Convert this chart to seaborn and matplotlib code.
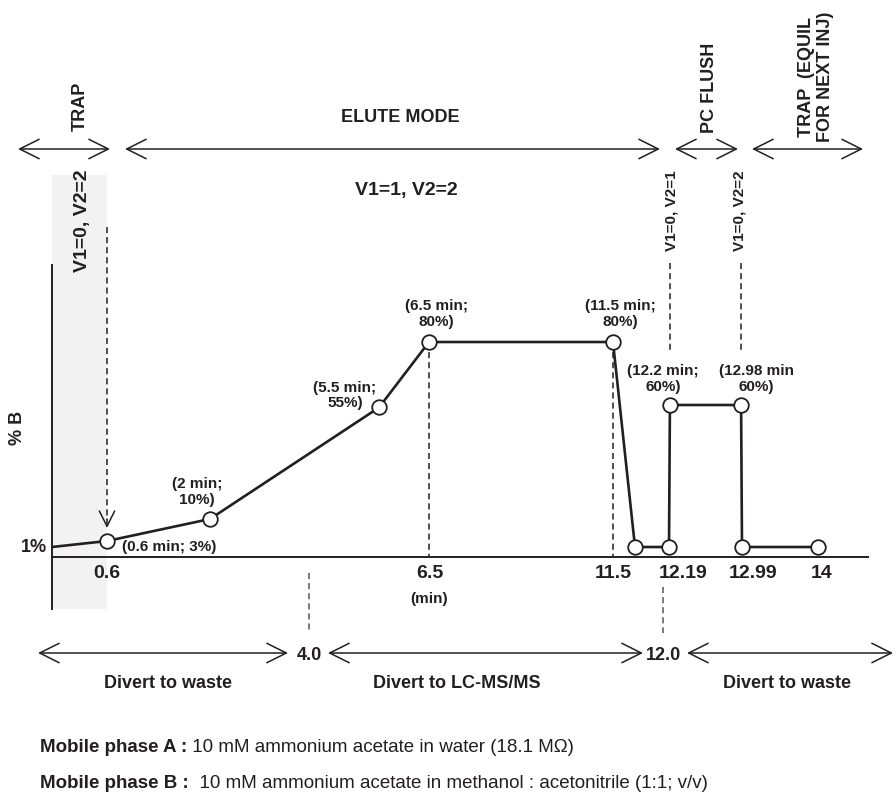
import numpy as np
import matplotlib
matplotlib.use('Agg')
import matplotlib.pyplot as plt
import matplotlib.transforms as mtransforms
from matplotlib.patches import Rectangle
import seaborn as sns

sns.set_theme(style='white')
plt.rcParams['font.family'] = ['Liberation Sans', 'DejaVu Sans']
plt.rcParams['font.weight'] = 'bold'

INK = '#231f20'

# gradient program: time (min) and %B
time_min = [0, 0.6, 2, 5.5, 6.5, 11.5, 11.8, 12.19, 12.2, 12.98, 12.99, 14]
pct_b = [1, 3, 10, 55, 80, 80, 1, 1, 60, 60, 1, 1]
point_labels = ['', '(0.6 min; 3%)', '(2 min;\n10%)', '(5.5 min;\n55%)', '(6.5 min;\n80%)',
                '(11.5 min;\n80%)', '', '', '(12.2 min;\n60%)', '(12.98 min\n60%)', '', '']
tick_times = [0.6, 6.5, 11.5, 12.19, 12.99, 14]
tick_labels = ['0.6', '6.5', '11.5', '12.19', '12.99', '14']
divert_times = [4.0, 12.0]
divert_labels = ['Divert to waste', 'Divert to LC-MS/MS', 'Divert to waste']
mode_labels = ['TRAP', 'ELUTE MODE', 'PC FLUSH', 'TRAP  (EQUIL\nFOR NEXT INJ)']
valve_labels = ['V1=0, V2=2', 'V1=1, V2=2', 'V1=0, V2=1', 'V1=0, V2=2']
phase_a = ('Mobile phase A :', ' 10 mM ammonium acetate in water (18.1 M\u03a9)')
phase_b = ('Mobile phase B :', '  10 mM ammonium acetate in methanol : acetonitrile (1:1; v/v)')

# the drawing is schematic, so both axes use piecewise scales
X_T = [0, 0.6, 2, 4, 5.5, 6.5, 11.5, 11.8, 12.0, 12.19, 12.99, 14, 15]
X_U = [52, 107, 210, 309, 379, 429, 613, 635, 663, 669, 742, 818, 868]
Y_P = [-25, -3, 1, 3, 10, 55, 60, 80, 110]
Y_U = [186, 238, 248, 254, 276, 387.5, 390, 453, 530]

fig = plt.figure(figsize=(8.96, 7.95), dpi=100)
ax = fig.add_axes([52 / 896, 186 / 795, 816 / 896, 344 / 795])
ax.set_xscale('function', functions=(lambda t: np.interp(t, X_T, X_U),
                                      lambda u: np.interp(u, X_U, X_T)))
ax.set_yscale('function', functions=(lambda p: np.interp(p, Y_P, Y_U),
                                      lambda u: np.interp(u, Y_U, Y_P)))

ov = fig.add_axes([0, 0, 1, 1], zorder=3)
ov.set_xlim(0, 896)
ov.set_ylim(795, 0)
ov.axis('off')
bt = mtransforms.blended_transform_factory(ax.transData, ov.transData)

# trap window shading
ax.add_patch(Rectangle((0, 175), time_min[1], 434, transform=bt, color='#f2f2f2',
                       lw=0, zorder=0, clip_on=False))

sns.lineplot(x=time_min, y=pct_b, estimator=None, sort=False, color=INK,
             linewidth=1.9, ax=ax, zorder=3)
sns.scatterplot(x=time_min[1:], y=pct_b[1:], s=110, color='white', edgecolor=INK,
                linewidth=1.3, ax=ax, zorder=4)

ax.set_xlim(0, 15)
ax.set_ylim(-25, 110)
ax.set_xticks([])
ax.set_yticks([])
ax.set_facecolor('none')
for side in ['top', 'right']:
    ax.spines[side].set_visible(False)
ax.spines['bottom'].set_position(('data', -3))
for side in ['left', 'bottom']:
    ax.spines[side].set_color(INK)
    ax.spines[side].set_linewidth(1.4)

dash = (0, (4, 2.6))
# guides from the 80% plateau down to the time axis
for i in [4, 5]:
    ax.plot([time_min[i]] * 2, [pct_b[i], -3], color=INK, lw=1.1, ls=dash, zorder=2)
# valve switch guides
ax.plot([time_min[1]] * 2, [227, 520], transform=bt, color=INK, lw=1.1, ls=dash, clip_on=False)
ax.annotate('', xy=(time_min[1], 528), xycoords=bt, xytext=(time_min[1], 519), textcoords=bt,
            arrowprops=dict(arrowstyle='->,head_length=1.1,head_width=0.55', mutation_scale=10,
                            lw=1.1, color=INK, shrinkA=0, shrinkB=0))
for i in [8, 9]:
    ax.plot([time_min[i]] * 2, [263, 350], transform=bt, color=INK, lw=1.1, ls=dash, clip_on=False)
# divert valve guides
for t, top in zip(divert_times, [573, 587]):
    ax.plot([t, t], [top, 633], transform=bt, color='#555555', lw=1.1, ls=dash, clip_on=False)

# point labels
label_offsets = [None, (15, -6), (-13, 27), (-34, 12), (7, 28), (7, 28), None, None,
                 (-7, 26), (15, 26), None, None]
for t, b, lab, off in zip(time_min, pct_b, point_labels, label_offsets):
    if not lab:
        continue
    ha = 'left' if '\n' not in lab else 'center'
    ax.annotate(lab, xy=(t, b), xytext=off, textcoords='offset pixels', ha=ha, va='center',
                multialignment='center', fontsize=11, color=INK, linespacing=1.15,
                annotation_clip=False)

# axis tick labels
tick_dx = [0, 1, 0, 14, 11, 4]
for t, lab, dx in zip(tick_times, tick_labels, tick_dx):
    ax.annotate(lab, xy=(t, -3), xytext=(dx, -16), textcoords='offset pixels', ha='center',
                va='center', fontsize=14, color=INK, annotation_clip=False)
ax.annotate('(min)', xy=(6.5, -3), xytext=(0, -42), textcoords='offset pixels', ha='center',
            va='center', fontsize=11, color=INK, annotation_clip=False)
ax.annotate('1%', xy=(0, pct_b[0]), xytext=(-5, 0), textcoords='offset pixels', ha='right',
            va='center', fontsize=13, color=INK, annotation_clip=False)
ov.text(17, 428, '% B', rotation=90, ha='center', va='center', fontsize=13, color=INK)

# mode arrows along the top
arrow_kw = dict(arrowstyle='<->,head_length=1.4,head_width=0.7', mutation_scale=10,
                lw=1.1, color=INK, shrinkA=0, shrinkB=0)
for x0, x1 in [(18, 110), (125, 660), (675, 738), (752, 863)]:
    ov.annotate('', xy=(x1, 149), xytext=(x0, 149), arrowprops=arrow_kw)
ov.text(80, 106, mode_labels[0], rotation=90, ha='center', va='center', fontsize=13, color=INK)
ov.text(400, 118, mode_labels[1], ha='center', va='center', fontsize=13, color=INK)
ov.text(709, 88, mode_labels[2], rotation=90, ha='center', va='center', fontsize=13, color=INK)
ov.text(816, 77, mode_labels[3], rotation=90, ha='center', va='center', fontsize=13,
        color=INK, linespacing=1.15)

ov.text(82, 221, valve_labels[0], rotation=90, ha='center', va='center', fontsize=14, color=INK)
ov.text(406, 191, valve_labels[1], ha='center', va='center', fontsize=14, color=INK)
ov.text(672, 211, valve_labels[2], rotation=90, ha='center', va='center', fontsize=11, color=INK)
ov.text(739, 211, valve_labels[3], rotation=90, ha='center', va='center', fontsize=11, color=INK)

# divert valve arrows along the bottom
for x0, x1 in [(38, 288), (328, 643), (687, 893)]:
    ov.annotate('', xy=(x1, 653), xytext=(x0, 653), arrowprops=arrow_kw)
for t in divert_times:
    ax.text(t, 655, f'{t:.1f}', transform=bt, ha='center', va='center', fontsize=13, color=INK)
for x, lab in zip([168, 457, 787], divert_labels):
    ov.text(x, 683, lab, ha='center', va='center', fontsize=13, color=INK)

for y, (head, rest) in zip([748, 783], [phase_a, phase_b]):
    tb = ov.text(40, y, head, ha='left', va='center', fontsize=13.5, color=INK)
    ov.annotate(rest, xy=(1, 0), xycoords=tb, ha='left', va='bottom', fontsize=13.5,
                fontweight='normal', color=INK)

fig.savefig('out.png', dpi=100)
